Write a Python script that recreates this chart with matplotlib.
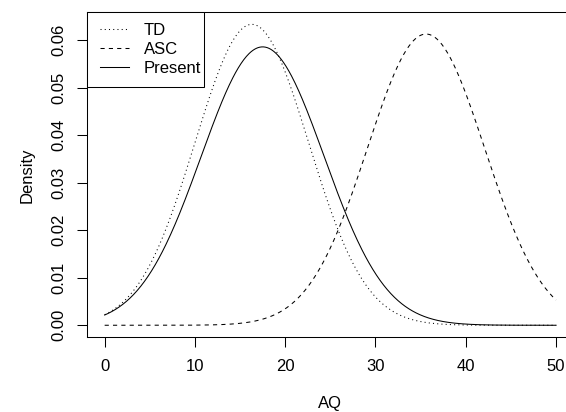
import numpy as np
import matplotlib
matplotlib.use("Agg")
import matplotlib.pyplot as plt
from matplotlib.legend_handler import HandlerLine2D

# Normal densities of AQ scores for each group
groups = ["TD", "ASC", "Present"]
means = [16.3, 35.6, 17.5]
sds = [6.30, 6.51, 6.81]

x_range = (0, 50)
x_ticks = [0, 10, 20, 30, 40, 50]
y_ticks = [0.00, 0.01, 0.02, 0.03, 0.04, 0.05, 0.06]
y_tick_labels = ["0.00", "0.01", "0.02", "0.03", "0.04", "0.05", "0.06"]

line_styles = {
    "TD": (0, (0.75, 2.3)),
    "ASC": (0, (3.0, 3.0)),
    "Present": "-",
}

plt.rcParams["font.family"] = ["Liberation Sans", "DejaVu Sans"]
plt.rcParams["font.size"] = 12
plt.rcParams["lines.scale_dashes"] = False

W, H, DPI = 566, 412, 100
fig = plt.figure(figsize=(W / DPI, H / DPI), dpi=DPI)
ax_l, ax_r, ax_t, ax_b = 86.6, 574.1, 12.3, 337.3
ax = fig.add_axes([ax_l / W, 1 - ax_b / H, (ax_r - ax_l) / W, (ax_b - ax_t) / H])

x = np.linspace(x_range[0], x_range[1], 501)
peak = 0.0
for g, m, s in zip(groups, means, sds):
    dens = np.exp(-0.5 * ((x - m) / s) ** 2) / (s * np.sqrt(2 * np.pi))
    peak = max(peak, dens.max())
    ax.plot(x, dens, color="black", lw=0.75, linestyle=line_styles[g], label=g)

# R-style 4% padding on both axes
xspan = x_range[1] - x_range[0]
ax.set_xlim(x_range[0] - 0.04 * xspan, x_range[1] + 0.04 * xspan)
ax.set_ylim(-0.04 * peak, 1.04 * peak)

ax.set_xticks(x_ticks)
ax.set_xticklabels([str(t) for t in x_ticks])
ax.set_yticks(y_ticks)
ax.set_yticklabels(y_tick_labels)
ax.tick_params(axis="both", direction="out", length=7.2, width=0.75, colors="black")
ax.tick_params(axis="x", pad=8.5)
ax.tick_params(axis="y", pad=7.2)
for lab in ax.get_yticklabels():
    lab.set_rotation(90)
    lab.set_va("center")
    lab.set_ha("right")
    lab.set_rotation_mode("default")

for sp in ax.spines.values():
    sp.set_linewidth(0.75)
    sp.set_color("black")

ax.set_xlabel("AQ")
ax.set_ylabel("Density")
ax.xaxis.set_label_coords((330.3 - ax_l) / (ax_r - ax_l), -(396 - ax_b) / (ax_b - ax_t))
ax.yaxis.set_label_coords(-(ax_l - 34.5) / (ax_r - ax_l), 0.5)

# legend box in the top-left corner, width fixed through expand mode
leg_w = (204.0 - ax_l) / (ax_r - ax_l)
leg = ax.legend(
    loc="upper left",
    bbox_to_anchor=(0, 0, leg_w, 1),
    mode="expand",
    borderaxespad=0,
    fancybox=False,
    edgecolor="black",
    framealpha=1,
    borderpad=0.65,
    handlelength=1.89,
    handletextpad=0.9,
    labelspacing=0.24,
    fontsize=12,
    handler_map={matplotlib.lines.Line2D: HandlerLine2D(xpad=0.153)},
)
leg.get_frame().set_linewidth(0.75)

fig.savefig("out.png", dpi=DPI)
